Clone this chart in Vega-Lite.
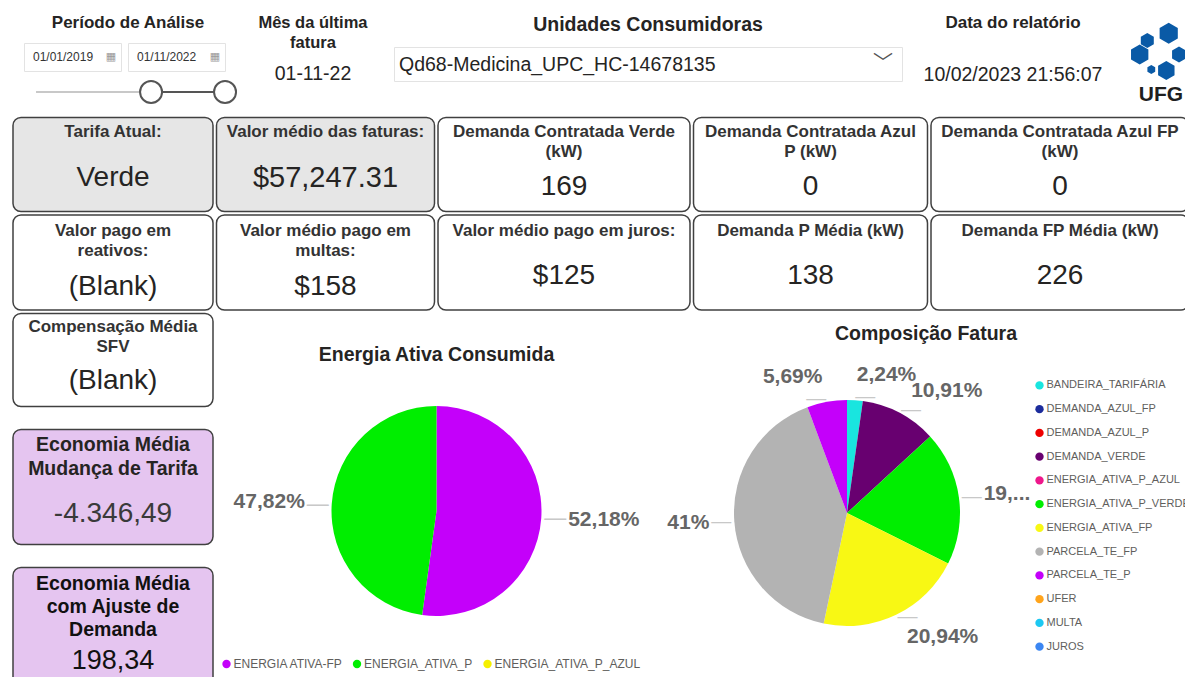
{
  "$schema": "https://vega.github.io/schema/vega-lite/v6.json",
  "background": "#ffffff",
  "padding": {"left": 12, "top": 0, "right": 0, "bottom": 0},
  "spacing": 1.5,
  "resolve": {"scale": {"color": "independent", "theta": "independent"}},
  "datasets": {
    "energia": [
      {"ordem": 1, "tipo": "ENERGIA ATIVA-FP", "pct": 52.18, "rotulo": "52,18%"},
      {"ordem": 2, "tipo": "ENERGIA_ATIVA_P", "pct": 47.82, "rotulo": "47,82%"},
      {"ordem": 3, "tipo": "ENERGIA_ATIVA_P_AZUL", "pct": 0, "rotulo": ""}
    ],
    "composicao": [
      {"ordem": 1, "componente": "BANDEIRA_TARIFÁRIA", "pct": 2.24, "rotulo": "2,24%"},
      {"ordem": 2, "componente": "DEMANDA_AZUL_FP", "pct": 0, "rotulo": ""},
      {"ordem": 3, "componente": "DEMANDA_AZUL_P", "pct": 0, "rotulo": ""},
      {"ordem": 4, "componente": "DEMANDA_VERDE", "pct": 10.91, "rotulo": "10,91%"},
      {"ordem": 5, "componente": "ENERGIA_ATIVA_P_AZUL", "pct": 0, "rotulo": ""},
      {"ordem": 6, "componente": "ENERGIA_ATIVA_P_VERDE", "pct": 19.22, "rotulo": "19,..."},
      {"ordem": 7, "componente": "ENERGIA_ATIVA_FP", "pct": 20.94, "rotulo": "20,94%"},
      {"ordem": 8, "componente": "PARCELA_TE_FP", "pct": 41, "rotulo": "41%"},
      {"ordem": 9, "componente": "PARCELA_TE_P", "pct": 5.69, "rotulo": "5,69%"},
      {"ordem": 10, "componente": "UFER", "pct": 0, "rotulo": ""},
      {"ordem": 11, "componente": "MULTA", "pct": 0, "rotulo": ""},
      {"ordem": 12, "componente": "JUROS", "pct": 0, "rotulo": ""}
    ]
  },
  "config": {
    "view": {"stroke": null},
    "font": "Liberation Sans",
    "text": {"font": "Liberation Sans"},
    "style": {
      "cabecalho": {"fontSize": 17, "fontWeight": "bold", "color": "#252423", "baseline": "middle"},
      "valorCab": {"fontSize": 19.5, "color": "#252423", "baseline": "middle"},
      "tituloCard": {"fontSize": 17, "fontWeight": "bold", "color": "#333333", "baseline": "top", "lineHeight": 20, "lineBreak": "\n"},
      "valorCard": {"fontSize": 28, "color": "#252423", "baseline": "middle"},
      "rotuloPizza": {"fontSize": 21, "fontWeight": "bold", "color": "#666666", "baseline": "middle"},
      "tituloVisual": {"fontSize": 19.5, "fontWeight": "bold", "color": "#252423", "baseline": "middle"},
      "legenda": {"fontSize": 11, "color": "#605e5c", "baseline": "middle", "align": "left"}
    }
  },
  "vconcat": [
    {
      "spacing": 0,
      "hconcat": [
        {
          "spacing": 0,
          "vconcat": [
            {"width": 230, "height": 42, "data": {"values": [{"filtro": "Período de Análise"}]},
             "mark": {"type": "text", "style": "cabecalho", "dy": 2},
             "encoding": {"text": {"field": "filtro", "type": "nominal"}}},
            {"spacing": 5, "hconcat": [
              {"width": 5, "height": 28, "data": {"values": [{}]}, "mark": {"type": "text", "text": ""}, "encoding": {}},
              {"width": 97, "height": 28, "view": {"fill": "#ffffff", "stroke": "#e3e3e3", "strokeWidth": 1},
               "data": {"values": [{"limite": "início", "data": "2019-01-01T00:00:00"}]},
               "layer": [
                 {"mark": {"type": "text", "align": "left", "baseline": "middle", "dx": -39.5, "fontSize": 12, "color": "#333333"},
                  "encoding": {"text": {"field": "data", "type": "temporal", "format": "%d/%m/%Y"}}},
                 {"mark": {"type": "text", "text": "▦", "font": "DejaVu Sans", "fontSize": 11, "color": "#9a9a9a", "baseline": "middle", "dx": 38.5}, "encoding": {}}
               ]},
              {"width": 97, "height": 28, "view": {"fill": "#ffffff", "stroke": "#e3e3e3", "strokeWidth": 1},
               "data": {"values": [{"limite": "fim", "data": "2022-11-01T00:00:00"}]},
               "layer": [
                 {"mark": {"type": "text", "align": "left", "baseline": "middle", "dx": -39.5, "fontSize": 12, "color": "#333333"},
                  "encoding": {"text": {"field": "data", "type": "temporal", "format": "%d/%m/%Y"}}},
                 {"mark": {"type": "text", "text": "▦", "font": "DejaVu Sans", "fontSize": 11, "color": "#9a9a9a", "baseline": "middle", "dx": 38.5}, "encoding": {}}
               ]}
            ]},
            {"width": 230, "height": 40,
             "layer": [
               {"data": {"values": [{"trecho": "histórico", "de": "2013-01-15T00:00:00", "ate": "2019-01-01T00:00:00"}]},
                "mark": {"type": "rule", "color": "#c8c8c8", "strokeWidth": 2},
                "encoding": {"x": {"field": "de", "type": "temporal", "axis": null,
                                   "scale": {"domain": [{"year": 2011, "month": 11, "date": 6}, {"year": 2023, "month": 10, "date": 7}]}},
                             "x2": {"field": "ate"}}},
               {"data": {"values": [{"trecho": "selecionado", "de": "2019-01-01T00:00:00", "ate": "2022-11-01T00:00:00"}]},
                "mark": {"type": "rule", "color": "#555555", "strokeWidth": 2},
                "encoding": {"x": {"field": "de", "type": "temporal"}, "x2": {"field": "ate"}}},
               {"data": {"values": [{"alca": "início", "data": "2019-01-01T00:00:00"}, {"alca": "fim", "data": "2022-11-01T00:00:00"}]},
                "mark": {"type": "point", "shape": "circle", "size": 484, "filled": true, "fill": "#ffffff", "stroke": "#555555", "strokeWidth": 2, "opacity": 1},
                "encoding": {"x": {"field": "data", "type": "temporal"}}}
             ]}
          ]
        },
        {"width": 140, "height": 115,
         "data": {"values": [{"titulo": "Mês da última\nfatura", "mes": "01-11-22"}]},
         "layer": [
           {"mark": {"type": "text", "style": "cabecalho", "baseline": "top", "lineBreak": "\n", "lineHeight": 20, "fontSize": 16.5, "dy": -42.5},
            "encoding": {"text": {"field": "titulo", "type": "nominal"}}},
           {"mark": {"type": "text", "style": "valorCab", "dy": 16.5},
            "encoding": {"text": {"field": "mes", "type": "nominal"}}}
         ]},
        {"spacing": 0, "hconcat": [
          {"width": 10, "height": 80, "data": {"values": [{}]}, "mark": {"type": "text", "text": ""}, "encoding": {}},
          {"spacing": 0, "vconcat": [
            {"width": 508, "height": 46, "data": {"values": [{"filtro": "Unidades Consumidoras"}]},
             "mark": {"type": "text", "style": "cabecalho", "fontSize": 19.5, "dy": 2},
             "encoding": {"text": {"field": "filtro", "type": "nominal"}}},
            {"width": 508, "height": 34, "view": {"fill": "#ffffff", "stroke": "#e3e3e3", "strokeWidth": 1},
             "data": {"values": [{"unidade": "Qd68-Medicina_UPC_HC-14678135"}]},
             "layer": [
               {"mark": {"type": "text", "align": "left", "baseline": "middle", "fontSize": 19.5, "color": "#252423", "dx": -249, "dy": 1},
                "encoding": {"text": {"field": "unidade", "type": "nominal"}}},
               {"mark": {"type": "text", "text": "﹀", "font": "Noto Sans CJK SC", "fontSize": 20, "color": "#555555", "baseline": "middle", "dx": 235}, "encoding": {}}
             ]}
          ]}
        ]},
        {"width": 220, "height": 115,
         "data": {"values": [{"titulo": "Data do relatório", "atualizacao": "10/02/2023 21:56:07"}]},
         "layer": [
           {"mark": {"type": "text", "style": "cabecalho", "dy": -34.5},
            "encoding": {"text": {"field": "titulo", "type": "nominal"}}},
           {"mark": {"type": "text", "style": "valorCab", "dy": 17.5},
            "encoding": {"text": {"field": "atualizacao", "type": "nominal"}}}
         ]},
        {"width": 70, "height": 115,
         "data": {"values": [{"instituicao": "UFG"}]},
         "layer": [
           {"mark": {"type": "point", "filled": true, "opacity": 1, "color": "#0a5aa6", "size": 3600,
                     "shape": "M0.357,-1.16L0.66,-0.985L0.66,-0.635L0.357,-0.46L0.054,-0.635L0.054,-0.985Z M-0.357,-0.817L-0.14,-0.692L-0.14,-0.442L-0.357,-0.317L-0.573,-0.442L-0.573,-0.692Z M-0.61,-0.433L-0.321,-0.267L-0.321,0.067L-0.61,0.233L-0.899,0.067L-0.899,-0.267Z M0.7,-0.367L0.931,-0.233L0.931,0.033L0.7,0.167L0.469,0.033L0.469,-0.233Z M-0.223,0.25L-0.093,0.325L-0.093,0.475L-0.223,0.55L-0.353,0.475L-0.353,0.325Z M0.277,0.116L0.551,0.275L0.551,0.591L0.277,0.75L0.003,0.591L0.003,0.275Z"},
            "encoding": {}},
           {"mark": {"type": "text", "fontSize": 21, "fontWeight": "bold", "color": "#1f1f1f", "baseline": "middle", "dx": 3, "dy": 37},
            "encoding": {"text": {"field": "instituicao", "type": "nominal"}}}
         ]}
      ]
    },
    {
      "spacing": 1.5,
      "hconcat": [
        {"width": 200, "height": 94, "view": {"fill": "#e6e6e6", "stroke": "#404040", "strokeWidth": 1.5, "cornerRadius": 8},
         "data": {"values": [{"indicador": "Tarifa Atual:", "valor": "Verde"}]},
         "layer": [
           {"mark": {"type": "text", "style": "tituloCard", "dy": -40.25}, "encoding": {"text": {"field": "indicador", "type": "nominal"}}},
           {"mark": {"type": "text", "style": "valorCard", "dy": 13.75}, "encoding": {"text": {"field": "valor", "type": "nominal"}}}
         ]},
        {"width": 218, "height": 94, "view": {"fill": "#e6e6e6", "stroke": "#404040", "strokeWidth": 1.5, "cornerRadius": 8},
         "data": {"values": [{"indicador": "Valor médio das faturas:", "valor": "$57,247.31"}]},
         "layer": [
           {"mark": {"type": "text", "style": "tituloCard", "dy": -40.25}, "encoding": {"text": {"field": "indicador", "type": "nominal"}}},
           {"mark": {"type": "text", "style": "valorCard", "fontSize": 29, "dy": 13.75}, "encoding": {"text": {"field": "valor", "type": "nominal"}}}
         ]},
        {"width": 252, "height": 94, "view": {"fill": "#ffffff", "stroke": "#404040", "strokeWidth": 1.5, "cornerRadius": 8},
         "data": {"values": [{"indicador": "Demanda Contratada Verde\n(kW)", "valor": "169"}]},
         "layer": [
           {"mark": {"type": "text", "style": "tituloCard", "dy": -40.25}, "encoding": {"text": {"field": "indicador", "type": "nominal"}}},
           {"mark": {"type": "text", "style": "valorCard", "dy": 22.75}, "encoding": {"text": {"field": "valor", "type": "nominal"}}}
         ]},
        {"width": 234, "height": 94, "view": {"fill": "#ffffff", "stroke": "#404040", "strokeWidth": 1.5, "cornerRadius": 8},
         "data": {"values": [{"indicador": "Demanda Contratada Azul\nP (kW)", "valor": "0"}]},
         "layer": [
           {"mark": {"type": "text", "style": "tituloCard", "dy": -40.25}, "encoding": {"text": {"field": "indicador", "type": "nominal"}}},
           {"mark": {"type": "text", "style": "valorCard", "dy": 22.75}, "encoding": {"text": {"field": "valor", "type": "nominal"}}}
         ]},
        {"width": 258, "height": 94, "view": {"fill": "#ffffff", "stroke": "#404040", "strokeWidth": 1.5, "cornerRadius": 8},
         "data": {"values": [{"indicador": "Demanda Contratada Azul FP\n(kW)", "valor": "0"}]},
         "layer": [
           {"mark": {"type": "text", "style": "tituloCard", "dy": -40.25}, "encoding": {"text": {"field": "indicador", "type": "nominal"}}},
           {"mark": {"type": "text", "style": "valorCard", "dy": 22.75}, "encoding": {"text": {"field": "valor", "type": "nominal"}}}
         ]}
      ]
    },
    {
      "spacing": 1.5,
      "hconcat": [
        {"width": 200, "height": 95, "view": {"fill": "#ffffff", "stroke": "#404040", "strokeWidth": 1.5, "cornerRadius": 8},
         "data": {"values": [{"indicador": "Valor pago em\nreativos:", "valor": "(Blank)"}]},
         "layer": [
           {"mark": {"type": "text", "style": "tituloCard", "dy": -39.75}, "encoding": {"text": {"field": "indicador", "type": "nominal"}}},
           {"mark": {"type": "text", "style": "valorCard", "dy": 24.25}, "encoding": {"text": {"field": "valor", "type": "nominal"}}}
         ]},
        {"width": 218, "height": 95, "view": {"fill": "#ffffff", "stroke": "#404040", "strokeWidth": 1.5, "cornerRadius": 8},
         "data": {"values": [{"indicador": "Valor médio pago em\nmultas:", "valor": "$158"}]},
         "layer": [
           {"mark": {"type": "text", "style": "tituloCard", "dy": -39.75}, "encoding": {"text": {"field": "indicador", "type": "nominal"}}},
           {"mark": {"type": "text", "style": "valorCard", "dy": 24.25}, "encoding": {"text": {"field": "valor", "type": "nominal"}}}
         ]},
        {"width": 252, "height": 95, "view": {"fill": "#ffffff", "stroke": "#404040", "strokeWidth": 1.5, "cornerRadius": 8},
         "data": {"values": [{"indicador": "Valor médio pago em juros:", "valor": "$125"}]},
         "layer": [
           {"mark": {"type": "text", "style": "tituloCard", "dy": -39.75}, "encoding": {"text": {"field": "indicador", "type": "nominal"}}},
           {"mark": {"type": "text", "style": "valorCard", "dy": 13.25}, "encoding": {"text": {"field": "valor", "type": "nominal"}}}
         ]},
        {"width": 234, "height": 95, "view": {"fill": "#ffffff", "stroke": "#404040", "strokeWidth": 1.5, "cornerRadius": 8},
         "data": {"values": [{"indicador": "Demanda P Média (kW)", "valor": "138"}]},
         "layer": [
           {"mark": {"type": "text", "style": "tituloCard", "dy": -39.75}, "encoding": {"text": {"field": "indicador", "type": "nominal"}}},
           {"mark": {"type": "text", "style": "valorCard", "dy": 13.25}, "encoding": {"text": {"field": "valor", "type": "nominal"}}}
         ]},
        {"width": 258, "height": 95, "view": {"fill": "#ffffff", "stroke": "#404040", "strokeWidth": 1.5, "cornerRadius": 8},
         "data": {"values": [{"indicador": "Demanda FP Média (kW)", "valor": "226"}]},
         "layer": [
           {"mark": {"type": "text", "style": "tituloCard", "dy": -39.75}, "encoding": {"text": {"field": "indicador", "type": "nominal"}}},
           {"mark": {"type": "text", "style": "valorCard", "dy": 13.25}, "encoding": {"text": {"field": "valor", "type": "nominal"}}}
         ]}
      ]
    },
    {
      "spacing": 0,
      "resolve": {"scale": {"color": "independent", "theta": "independent"}},
      "hconcat": [
        {"spacing": 21, "vconcat": [
          {"width": 200, "height": 93, "view": {"fill": "#ffffff", "stroke": "#404040", "strokeWidth": 1.5, "cornerRadius": 8},
           "data": {"values": [{"indicador": "Compensação Média\nSFV", "valor": "(Blank)"}]},
           "layer": [
             {"mark": {"type": "text", "style": "tituloCard", "dy": -40.75}, "encoding": {"text": {"field": "indicador", "type": "nominal"}}},
             {"mark": {"type": "text", "style": "valorCard", "dy": 21.25}, "encoding": {"text": {"field": "valor", "type": "nominal"}}}
           ]},
          {"width": 200, "height": 115, "view": {"fill": "#e5c5f0", "stroke": "#404040", "strokeWidth": 1.5, "cornerRadius": 8},
           "data": {"values": [{"indicador": "Economia Média\nMudança de Tarifa", "valor": "-4.346,49"}]},
           "layer": [
             {"mark": {"type": "text", "style": "tituloCard", "fontSize": 19.5, "lineHeight": 24, "color": "#252423", "dy": -51.5}, "encoding": {"text": {"field": "indicador", "type": "nominal"}}},
             {"mark": {"type": "text", "style": "valorCard", "color": "#3a3a3a", "dy": 26.5}, "encoding": {"text": {"field": "valor", "type": "nominal"}}}
           ]},
          {"width": 200, "height": 130, "view": {"fill": "#e5c5f0", "stroke": "#404040", "strokeWidth": 1.5, "cornerRadius": 8},
           "data": {"values": [{"indicador": "Economia Média\ncom Ajuste de\nDemanda", "valor": "198,34"}]},
           "layer": [
             {"mark": {"type": "text", "style": "tituloCard", "fontSize": 19.5, "lineHeight": 23, "color": "#111111", "dy": -58}, "encoding": {"text": {"field": "indicador", "type": "nominal"}}},
             {"mark": {"type": "text", "style": "valorCard", "fontSize": 27, "color": "#111111", "dy": 28.7}, "encoding": {"text": {"field": "valor", "type": "nominal"}}}
           ]}
        ]},
        {"spacing": 0, "vconcat": [
          {"width": 445, "height": 83, "data": {"values": [{"visual": "Energia Ativa Consumida"}]},
           "mark": {"type": "text", "style": "tituloVisual", "dy": 0},
           "encoding": {"text": {"field": "visual", "type": "nominal"}}},
          {"width": 445, "height": 229, "data": {"name": "energia"},
           "layer": [
             {"mark": {"type": "arc", "outerRadius": 105},
              "encoding": {
                "theta": {"field": "pct", "type": "quantitative", "stack": true},
                "order": {"field": "ordem", "type": "quantitative"},
                "color": {"field": "tipo", "type": "nominal", "legend": null,
                          "scale": {"domain": ["ENERGIA ATIVA-FP", "ENERGIA_ATIVA_P", "ENERGIA_ATIVA_P_AZUL"], "range": ["#c400fa", "#00ee00", "#f5f000"]}}}},
             {"transform": [{"filter": "datum.pct > 0"}],
              "mark": {"type": "text", "text": "—", "fontSize": 22, "color": "#c8c8c8", "baseline": "middle", "radius": 108,
                       "align": {"expr": "datum.pct_start + datum.pct_end < 100 ? 'left' : 'right'"}},
              "encoding": {
                "theta": {"field": "pct", "type": "quantitative", "stack": true},
                "order": {"field": "ordem", "type": "quantitative"}}},
             {"transform": [{"filter": "datum.pct > 0"}],
              "mark": {"type": "text", "style": "rotuloPizza", "radius": 132,
                       "align": {"expr": "datum.pct_start + datum.pct_end < 100 ? 'left' : 'right'"}},
              "encoding": {
                "theta": {"field": "pct", "type": "quantitative", "stack": true},
                "order": {"field": "ordem", "type": "quantitative"},
                "text": {"field": "rotulo", "type": "nominal"}}}
           ]},
          {"width": 286, "height": 77, "data": {"name": "energia"},
           "encoding": {"x": {"field": "tipo", "type": "nominal", "sort": null, "axis": null, "scale": {"padding": 0.0958}}},
           "layer": [
             {"mark": {"type": "point", "shape": "circle", "size": 70, "filled": true, "opacity": 1},
              "encoding": {"color": {"field": "tipo", "type": "nominal", "legend": null,
                                     "scale": {"domain": ["ENERGIA ATIVA-FP", "ENERGIA_ATIVA_P", "ENERGIA_ATIVA_P_AZUL"], "range": ["#c400fa", "#00ee00", "#f5f000"]}}}},
             {"mark": {"type": "text", "style": "legenda", "fontSize": 12, "dx": 7},
              "encoding": {"text": {"field": "tipo", "type": "nominal"}}}
           ]}
        ]},
        {"spacing": 0, "vconcat": [
          {"width": 534, "height": 39, "data": {"values": [{"visual": "Composição Fatura"}]},
           "mark": {"type": "text", "style": "tituloVisual", "dy": 1},
           "encoding": {"text": {"field": "visual", "type": "nominal"}}},
          {"spacing": 0, "hconcat": [
            {"width": 376, "height": 321, "data": {"name": "composicao"},
             "layer": [
               {"mark": {"type": "arc", "outerRadius": 113},
                "encoding": {
                  "theta": {"field": "pct", "type": "quantitative", "stack": true},
                  "order": {"field": "ordem", "type": "quantitative"},
                  "color": {"field": "componente", "type": "nominal", "legend": null,
                            "scale": {"domain": ["BANDEIRA_TARIFÁRIA", "DEMANDA_AZUL_FP", "DEMANDA_AZUL_P", "DEMANDA_VERDE", "ENERGIA_ATIVA_P_AZUL", "ENERGIA_ATIVA_P_VERDE", "ENERGIA_ATIVA_FP", "PARCELA_TE_FP", "PARCELA_TE_P", "UFER", "MULTA", "JUROS"],
                                      "range": ["#19e5df", "#1c2c9c", "#ee0000", "#680070", "#ee178b", "#00ee00", "#f8f814", "#b3b3b3", "#c400fa", "#ffa41c", "#1cc8f2", "#3b86f2"]}}}},
               {"transform": [{"filter": "datum.pct > 0"}],
                "mark": {"type": "text", "text": "—", "fontSize": 20, "color": "#c8c8c8", "baseline": "middle", "radius": 116,
                         "align": {"expr": "datum.pct_start + datum.pct_end < 100 ? 'left' : 'right'"}},
                "encoding": {
                  "theta": {"field": "pct", "type": "quantitative", "stack": true},
                  "order": {"field": "ordem", "type": "quantitative"}}},
               {"transform": [{"filter": "datum.pct > 0"}],
                "mark": {"type": "text", "style": "rotuloPizza", "radius": 138,
                         "align": {"expr": "datum.pct_start + datum.pct_end < 100 ? 'left' : 'right'"}},
                "encoding": {
                  "theta": {"field": "pct", "type": "quantitative", "stack": true},
                  "order": {"field": "ordem", "type": "quantitative"},
                  "text": {"field": "rotulo", "type": "nominal"}}}
             ]},
            {"spacing": 0, "vconcat": [
              {"width": 5, "height": 21, "data": {"values": [{}]}, "mark": {"type": "text", "text": ""}, "encoding": {}},
              {"width": 5, "height": 285, "data": {"name": "composicao"},
               "encoding": {"y": {"field": "componente", "type": "nominal", "sort": null, "axis": null, "scale": {"padding": 0.5}}},
               "layer": [
                 {"mark": {"type": "point", "shape": "circle", "size": 70, "filled": true, "opacity": 1},
                  "encoding": {"color": {"field": "componente", "type": "nominal", "legend": null,
                                         "scale": {"domain": ["BANDEIRA_TARIFÁRIA", "DEMANDA_AZUL_FP", "DEMANDA_AZUL_P", "DEMANDA_VERDE", "ENERGIA_ATIVA_P_AZUL", "ENERGIA_ATIVA_P_VERDE", "ENERGIA_ATIVA_FP", "PARCELA_TE_FP", "PARCELA_TE_P", "UFER", "MULTA", "JUROS"],
                                                   "range": ["#19e5df", "#1c2c9c", "#ee0000", "#680070", "#ee178b", "#00ee00", "#f8f814", "#b3b3b3", "#c400fa", "#ffa41c", "#1cc8f2", "#3b86f2"]}}}},
                 {"mark": {"type": "text", "style": "legenda", "dx": 7},
                  "encoding": {"text": {"field": "componente", "type": "nominal"}}}
               ]}
            ]}
          ]}
        ]}
      ]
    }
  ]
}
